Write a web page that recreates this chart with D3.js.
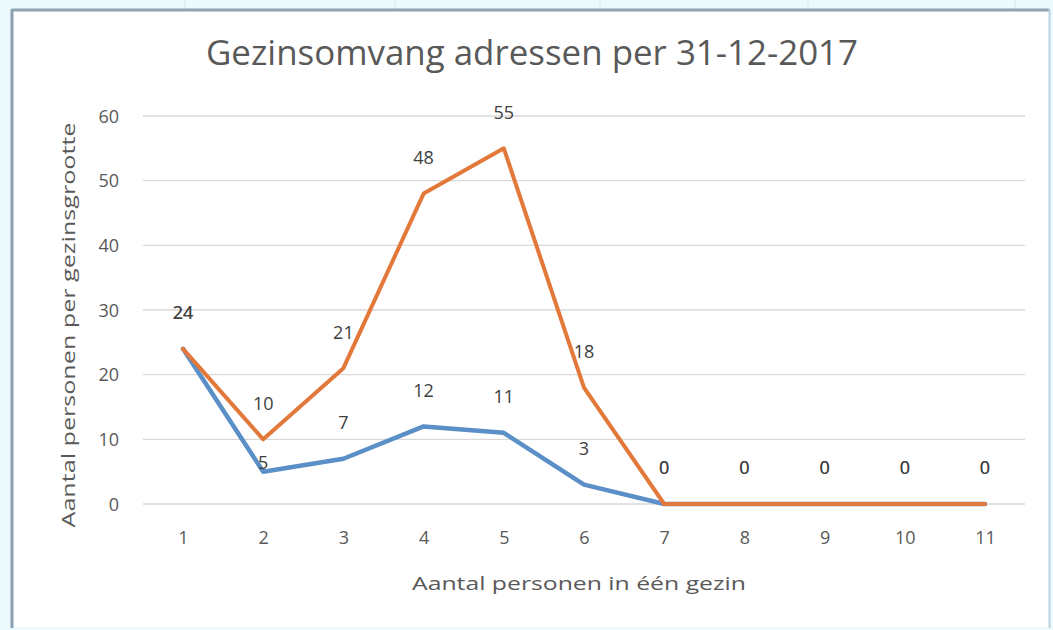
<!DOCTYPE html>
<html>
<head>
<meta charset="utf-8">
<script src="https://cdn.jsdelivr.net/npm/d3@7"></script>
<style>
  html, body { margin: 0; padding: 0; background: #ecfafd; }
  svg { display: block; }
</style>
</head>
<body>
<svg id="chart" width="1053" height="630"></svg>
<script>
// ---- data ----
const categories = ["1","2","3","4","5","6","7","8","9","10","11"];
const seriesOrange = [24, 10, 21, 48, 55, 18, 0, 0, 0, 0, 0];
const seriesBlue   = [24, 5, 7, 12, 11, 3, 0, 0, 0, 0, 0];
const yTicks = [0, 10, 20, 30, 40, 50, 60];
const titleText = "Gezinsomvang adressen per 31-12-2017";
const xTitle = "Aantal personen in één gezin";
const yTitle = "Aantal personen per gezinsgrootte";

const svg = d3.select("#chart");
const font = "'Open Sans', 'Noto Sans', sans-serif";

// background / frame
svg.append("rect").attr("x", 0).attr("y", 0).attr("width", 1053).attr("height", 630).attr("fill", "#ecfafd");
[185, 395, 600, 808, 1015].forEach(xx => {
  svg.append("line").attr("x1", xx).attr("x2", xx).attr("y1", 0).attr("y2", 9)
    .attr("stroke", "#d6e6ee").attr("stroke-width", 1);
});
svg.append("rect").attr("x", 12).attr("y", 10).attr("width", 1037).attr("height", 617)
  .attr("fill", "#ffffff");
svg.append("line").attr("x1", 12).attr("x2", 1049).attr("y1", 10).attr("y2", 10)
  .attr("stroke", "#8fa4b4").attr("stroke-width", 3);
svg.append("line").attr("x1", 12).attr("x2", 12).attr("y1", 9).attr("y2", 628)
  .attr("stroke", "#8a9fb0").attr("stroke-width", 3);
svg.append("line").attr("x1", 1049.5).attr("x2", 1049.5).attr("y1", 9).attr("y2", 628)
  .attr("stroke", "#b7d3df").attr("stroke-width", 2);

// scales
const x = d3.scalePoint().domain(categories).range([183, 985]);
const y = d3.scaleLinear().domain([0, 60]).range([504, 116]);
const plotLeft = 143, plotRight = 1025;

// gridlines
svg.append("g").selectAll("line").data(yTicks).join("line")
  .attr("x1", plotLeft).attr("x2", plotRight)
  .attr("y1", d => y(d)).attr("y2", d => y(d))
  .attr("stroke", "#d9d9d9").attr("stroke-width", 1.3);

// y axis tick labels
const yAxis = d3.axisLeft(y).tickValues(yTicks).tickSize(0).tickPadding(0);
const gy = svg.append("g").attr("transform", `translate(119,0)`).call(yAxis);
gy.select(".domain").remove();
gy.selectAll("text").attr("font-family", font).attr("font-size", 18).attr("fill", "#595959")
  .attr("dy", "0.35em");

// x axis tick labels
const xAxis = d3.axisBottom(x).tickSize(0).tickPadding(0);
const gx = svg.append("g").attr("transform", `translate(0,${y(0) + 34})`).call(xAxis);
gx.select(".domain").remove();
gx.selectAll("text").attr("font-family", font).attr("font-size", 18).attr("fill", "#595959")
  .attr("dy", "0.35em");

// lines
const line = d3.line().x((d, i) => x(categories[i])).y(d => y(d));
svg.append("path").datum(seriesBlue).attr("d", line)
  .attr("fill", "none").attr("stroke", "#5b8fc7").attr("stroke-width", 4.5)
  .attr("stroke-linejoin", "round").attr("stroke-linecap", "round");
svg.append("path").datum(seriesOrange).attr("d", line)
  .attr("fill", "none").attr("stroke", "#e2793a").attr("stroke-width", 4)
  .attr("stroke-linejoin", "round").attr("stroke-linecap", "round");

// data labels
const labelOffset = 36;
svg.append("g").selectAll("text").data(seriesBlue).join("text")
  .attr("x", (d, i) => x(categories[i]))
  .attr("y", (d, i) => y(d) - (i === 1 ? 9 : labelOffset))
  .attr("dy", "0.35em")
  .attr("text-anchor", "middle")
  .attr("font-family", font).attr("font-size", 18).attr("fill", "#404040")
  .text(d => d);
svg.append("g").selectAll("text").data(seriesOrange).join("text")
  .attr("x", (d, i) => x(categories[i]))
  .attr("y", d => y(d) - labelOffset)
  .attr("dy", "0.35em")
  .attr("text-anchor", "middle")
  .attr("font-family", font).attr("font-size", 18).attr("fill", "#404040")
  .text(d => d);

// titles
svg.append("text").attr("x", 532).attr("y", 65)
  .attr("text-anchor", "middle").attr("font-family", font).attr("font-size", 34)
  .attr("fill", "#595959").attr("textLength", 652).attr("lengthAdjust", "spacingAndGlyphs")
  .text(titleText);
svg.append("text").attr("x", 579).attr("y", 583).attr("dy", "0.35em")
  .attr("text-anchor", "middle").attr("font-family", font).attr("font-size", 19)
  .attr("fill", "#595959").attr("textLength", 334).attr("lengthAdjust", "spacingAndGlyphs")
  .text(xTitle);
svg.append("text").attr("transform", "translate(68,325) rotate(-90)").attr("dy", "0.35em")
  .attr("text-anchor", "middle").attr("font-family", font).attr("font-size", 19)
  .attr("fill", "#595959").attr("textLength", 405).attr("lengthAdjust", "spacingAndGlyphs")
  .text(yTitle);
</script>
</body>
</html>
